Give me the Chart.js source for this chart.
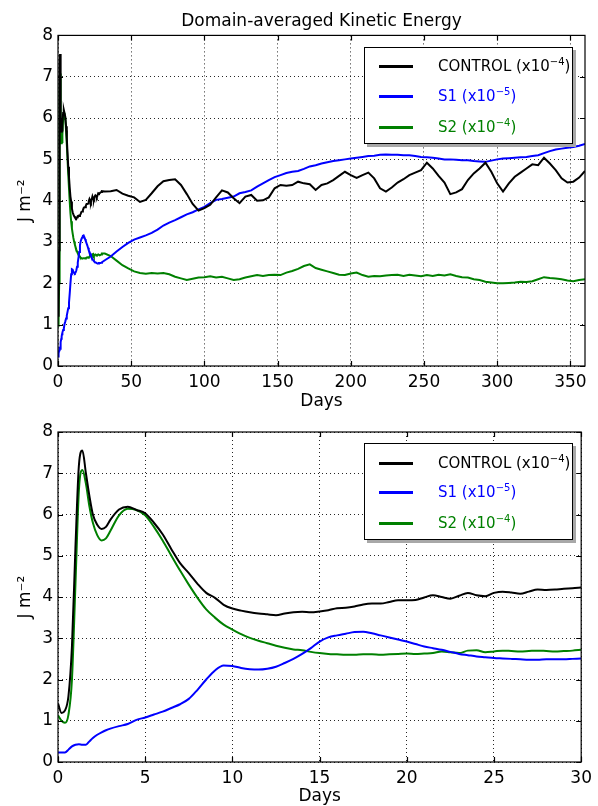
<!DOCTYPE html>
<html>
<head>
<meta charset="utf-8">
<script src="https://cdn.jsdelivr.net/npm/chart.js@4.4.0/dist/chart.umd.min.js"></script>
<style>
  body{margin:0;background:#fff;width:598px;height:806px;position:relative;overflow:hidden;font-family:"DejaVu Sans",sans-serif}
  canvas{position:absolute;left:0}
  #c1{top:0}
  #c2{top:416px}
  .legend{position:absolute;left:364px;width:207px;height:95px;border:1.5px solid #000;background:#fff;box-shadow:3px 3px 0 #a8a8a8;font-size:15px}
  .row{position:absolute;left:0;width:100%;height:20px;line-height:20px}
  .sw{position:absolute;left:14px;top:9px;width:34px;height:2.5px}
  .lbl{position:absolute;left:73px;white-space:nowrap}
  sup{font-size:10px;vertical-align:6px;line-height:0}
</style>
</head>
<body>
<canvas id="c1" width="598" height="416"></canvas>
<canvas id="c2" width="598" height="390"></canvas>

<div class="legend" style="top:47px">
  <div class="row" style="top:8px"><div class="sw" style="background:#000"></div><div class="lbl" style="color:#000">CONTROL (x10<sup>−4</sup>)</div></div>
  <div class="row" style="top:38px"><div class="sw" style="background:#0000ff"></div><div class="lbl" style="color:#0000ff">S1 (x10<sup>−5</sup>)</div></div>
  <div class="row" style="top:69px"><div class="sw" style="background:#008000"></div><div class="lbl" style="color:#008000">S2 (x10<sup>−4</sup>)</div></div>
</div>
<div class="legend" style="top:443px">
  <div class="row" style="top:9px"><div class="sw" style="background:#000"></div><div class="lbl" style="color:#000">CONTROL (x10<sup>−4</sup>)</div></div>
  <div class="row" style="top:38px"><div class="sw" style="background:#0000ff"></div><div class="lbl" style="color:#0000ff">S1 (x10<sup>−5</sup>)</div></div>
  <div class="row" style="top:69px"><div class="sw" style="background:#008000"></div><div class="lbl" style="color:#008000">S2 (x10<sup>−4</sup>)</div></div>
</div>

<script>
// first 30 days (bottom panel, also start of top panel)
const daysShort = [0,0.2,0.4,0.6,0.8,1.0,1.2,1.4,1.6,1.8,2.0,2.25,2.5,2.75,3.0,3.5,4.0,4.5,5.0,5.5,6.0,6.5,7.0,7.5,8.0,8.5,9.0,9.5,10,10.5,11,11.5,12,12.5,13,13.5,14,14.5,15,15.5,16,16.5,17,17.5,18,18.5,19,19.5,20,20.5,21,21.5,22,22.5,23,23.5,24,24.5,25,25.5,26,26.5,27,27.5,28,28.5,29,29.5,30];
const controlShort = [1.42,1.19,1.25,1.6,2.8,5.2,7.2,7.55,7.0,6.45,6.0,5.75,5.65,5.7,5.87,6.12,6.19,6.11,6.03,5.8,5.52,5.16,4.82,4.58,4.32,4.1,3.98,3.81,3.72,3.67,3.63,3.6,3.58,3.56,3.6,3.63,3.64,3.63,3.65,3.68,3.73,3.74,3.77,3.82,3.84,3.84,3.88,3.92,3.92,3.93,3.99,4.04,4.0,3.96,4.03,4.1,4.04,4.02,4.1,4.13,4.11,4.08,4.13,4.18,4.17,4.18,4.2,4.21,4.23];
const s1Short = [0.23,0.23,0.23,0.3,0.38,0.42,0.43,0.42,0.42,0.5,0.58,0.66,0.72,0.77,0.81,0.87,0.92,1.02,1.08,1.15,1.22,1.31,1.4,1.53,1.75,2.0,2.22,2.34,2.33,2.28,2.25,2.24,2.26,2.31,2.4,2.5,2.62,2.76,2.92,3.02,3.07,3.11,3.15,3.16,3.12,3.07,3.02,2.97,2.92,2.86,2.8,2.76,2.72,2.67,2.62,2.59,2.56,2.54,2.52,2.51,2.5,2.49,2.48,2.48,2.49,2.49,2.49,2.5,2.51];
const s2Short = [1.13,1.0,0.95,1.15,2.0,4.3,6.6,7.08,6.75,6.2,5.8,5.5,5.37,5.42,5.6,5.98,6.14,6.11,5.98,5.7,5.37,5.0,4.64,4.3,3.98,3.7,3.5,3.33,3.21,3.1,3.01,2.94,2.88,2.82,2.77,2.73,2.71,2.67,2.64,2.62,2.61,2.6,2.6,2.61,2.61,2.6,2.61,2.62,2.63,2.62,2.63,2.64,2.68,2.66,2.64,2.7,2.71,2.66,2.68,2.7,2.69,2.68,2.69,2.7,2.69,2.68,2.69,2.7,2.72];

// rest of the year (top panel)
const daysLong = [32,36,40,44,48,52,56,60,64,68,72,76,80,84,88,92,96,100,104,108,112,116,120,124,128,132,136,140,144,148,152,156,160,164,168,172,176,180,184,188,192,196,200,204,208,212,216,220,224,228,232,236,240,244,248,252,256,260,264,268,272,276,280,284,288,292,296,300,304,308,312,316,320,324,328,332,336,340,344,348,352,356,360];
const controlLong = [4.22,4.23,4.26,4.17,4.12,4.08,3.97,4.02,4.18,4.35,4.47,4.5,4.52,4.38,4.16,3.92,3.76,3.82,3.9,4.08,4.25,4.2,4.06,3.94,4.1,4.14,4.0,4.01,4.08,4.3,4.38,4.36,4.38,4.46,4.42,4.4,4.26,4.38,4.42,4.5,4.6,4.7,4.62,4.55,4.62,4.68,4.54,4.3,4.22,4.32,4.44,4.52,4.62,4.68,4.74,4.92,4.78,4.6,4.44,4.16,4.2,4.28,4.5,4.66,4.78,4.92,4.7,4.42,4.22,4.42,4.58,4.68,4.78,4.88,4.86,5.04,4.9,4.74,4.54,4.44,4.46,4.56,4.72];
const s1Long = [2.56,2.65,2.77,2.88,2.98,3.06,3.11,3.16,3.22,3.3,3.4,3.47,3.53,3.6,3.67,3.72,3.79,3.85,3.94,4.02,4.04,4.07,4.1,4.18,4.21,4.25,4.34,4.42,4.5,4.57,4.62,4.67,4.7,4.72,4.77,4.83,4.86,4.9,4.93,4.96,4.98,5.0,5.02,5.04,5.06,5.08,5.09,5.11,5.12,5.11,5.11,5.1,5.1,5.08,5.06,5.05,5.04,5.02,5.0,5.0,4.99,4.98,4.98,4.96,4.95,4.94,4.97,5.0,5.02,5.03,5.04,5.05,5.06,5.08,5.1,5.15,5.2,5.24,5.26,5.28,5.3,5.33,5.37];
const s2Long = [2.72,2.66,2.55,2.44,2.36,2.29,2.25,2.23,2.25,2.24,2.25,2.22,2.16,2.12,2.08,2.11,2.14,2.15,2.17,2.14,2.16,2.12,2.08,2.1,2.14,2.17,2.2,2.18,2.2,2.21,2.2,2.26,2.3,2.35,2.42,2.46,2.37,2.33,2.29,2.25,2.21,2.2,2.24,2.26,2.2,2.16,2.18,2.17,2.19,2.2,2.21,2.18,2.21,2.19,2.17,2.2,2.18,2.21,2.19,2.22,2.18,2.15,2.14,2.1,2.08,2.04,2.02,2.0,2.0,2.01,2.02,2.04,2.03,2.05,2.1,2.15,2.13,2.12,2.1,2.07,2.05,2.08,2.1];

const yTicks = [0,1,2,3,4,5,6,7,8];
const xTicksTop = [0,50,100,150,200,250,300,350];
const xTicksBottom = [0,5,10,15,20,25,30];

Chart.defaults.font.family = '"DejaVu Sans", sans-serif';
Chart.defaults.color = '#000';

const pts = (xs, ys) => xs.map((d,i) => ({x:d, y:ys[i]}));

// box round the plot + matplotlib style inward ticks
const frame = {
  id:'frame',
  afterDraw(chart){
    const {ctx, chartArea:a, scales:{x,y}} = chart;
    ctx.save();
    ctx.strokeStyle = '#000';
    ctx.lineWidth = 1.2;
    ctx.strokeRect(a.left, a.top, a.right-a.left, a.bottom-a.top);
    ctx.beginPath();
    x.ticks.forEach(t => {
      const px = Math.round(x.getPixelForValue(t.value)) + 0.5;
      ctx.moveTo(px, a.bottom); ctx.lineTo(px, a.bottom-5);
      ctx.moveTo(px, a.top); ctx.lineTo(px, a.top+5);
    });
    y.ticks.forEach(t => {
      const py = Math.round(y.getPixelForValue(t.value)) + 0.5;
      ctx.moveTo(a.left, py); ctx.lineTo(a.left+5, py);
      ctx.moveTo(a.right, py); ctx.lineTo(a.right-5, py);
    });
    ctx.stroke();
    ctx.restore();
  }
};

function makeChart(id, xs, ctl, s1, s2, xmax, xticks, opts){
  return new Chart(document.getElementById(id), {
    type:'line',
    data:{
      datasets:[
        {label:'CONTROL', data:pts(xs, ctl), borderColor:'#000000'},
        {label:'S1', data:pts(xs, s1), borderColor:'#0000ff'},
        {label:'S2', data:pts(xs, s2), borderColor:'#008000'}
      ]
    },
    options:{
      responsive:false,
      animation:false,
      elements:{
        point:{radius:0},
        line:{borderWidth:2, tension:opts.tension, cubicInterpolationMode:opts.interp}
      },
      layout:{padding:{left:0, right:13, top:opts.padTop, bottom:0}},
      plugins:{
        legend:{display:false},
        tooltip:{enabled:false},
        title:{display:!!opts.title, text:opts.title, fullSize:false, font:{size:17, weight:'normal'}, color:'#000', padding:{top:11, bottom:4}}
      },
      scales:{
        x:{
          type:'linear', min:0, max:xmax,
          ticks:{font:{size:17}, padding:6, maxRotation:0},
          afterBuildTicks:s => { s.ticks = xticks.map(v => ({value:v})); },
          afterFit:s => { s.height = opts.xh; },
          grid:{color:'rgba(0,0,0,0.85)', lineWidth:1, drawTicks:false},
          border:{display:false, dash:[1,3]},
          title:{display:true, text:'Days', font:{size:17}, padding:{top:0, bottom:opts.daysPad}}
        },
        y:{
          type:'linear', min:0, max:8,
          ticks:{font:{size:17}, padding:5},
          afterBuildTicks:s => { s.ticks = yTicks.map(v => ({value:v})); },
          afterFit:s => { s.width = 58; },
          grid:{color:'rgba(0,0,0,0.85)', lineWidth:1, drawTicks:false},
          border:{display:false, dash:[1,3]},
          title:{display:true, text:'J m⁻²', font:{size:17}, padding:{top:15, bottom:0}}
        }
      }
    },
    plugins:[frame]
  });
}

// top panel: full year, straight segments
const daysAll = daysShort.concat(daysLong);
makeChart('c1', daysAll, controlShort.concat(controlLong), s1Short.concat(s1Long), s2Short.concat(s2Long),
  360, xTicksTop, {title:'Domain-averaged Kinetic Energy', padTop:0, xh:50, daysPad:4, tension:0, interp:'default'});

// bottom panel: first 30 days, smooth
makeChart('c2', daysShort, controlShort, s1Short, s2Short,
  30, xTicksBottom, {title:'', padTop:16, xh:44, daysPad:-1, tension:0.4, interp:'monotone'});
</script>
</body>
</html>
